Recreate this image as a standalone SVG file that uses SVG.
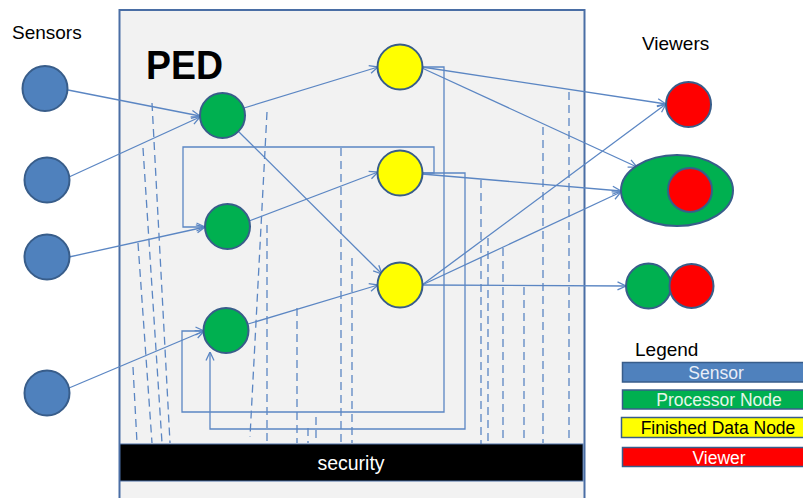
<svg xmlns="http://www.w3.org/2000/svg" width="803" height="498" viewBox="0 0 803 498">
  <style>
    .lbl { font-family: "Liberation Sans", Arial, sans-serif; fill: #000; }
    .ln { fill: none; stroke: #5b86c3; stroke-width: 1.3; }
    .arr { marker-end: url(#open); }
    .dash { fill: none; stroke: #5b86c3; stroke-width: 1.3; stroke-dasharray: 8 5; }
    .sensor { fill: #4f81bd; stroke: #385d8a; stroke-width: 2; }
    .proc { fill: #00b050; stroke: #385d8a; stroke-width: 2; }
    .fin { fill: #ffff00; stroke: #385d8a; stroke-width: 2; }
    .view { fill: #ff0000; stroke: #385d8a; stroke-width: 2; }
    .key { stroke: #385d8a; stroke-width: 1.5; }
    .keytxt { font-family: "Liberation Sans", Arial, sans-serif; font-size: 17.5px; text-anchor: middle; }
  </style>
  <defs>
    <marker id="open" viewBox="0 0 10 10" refX="9.5" refY="5" markerWidth="10" markerHeight="10" markerUnits="userSpaceOnUse" orient="auto">
      <path d="M1,1 L9.5,5 L1,9" fill="none" stroke="#5b86c3" stroke-width="1.3"/>
    </marker>
  </defs>
  <rect width="803" height="498" fill="#ffffff"/>

  <!-- PED enclosure -->
  <g id="ped">
    <rect x="119.5" y="10" width="465" height="495" fill="#f2f2f2" stroke="#4a6ea5" stroke-width="2"/>
    <text class="lbl" x="146" y="79" font-size="41" font-weight="bold" textLength="77" lengthAdjust="spacingAndGlyphs">PED</text>
  </g>

  <!-- dashed links inside PED -->
  <g id="dashed-links">
    <line class="dash" x1="152" y1="103" x2="170" y2="443"/>
    <line class="dash" x1="143" y1="148" x2="162" y2="443"/>
    <line class="dash" x1="138" y1="243" x2="152" y2="443"/>
    <line class="dash" x1="133" y1="367" x2="137" y2="443"/>
    <line class="dash" x1="267" y1="112" x2="250" y2="437"/>
    <line class="dash" x1="267" y1="225" x2="267" y2="443"/>
    <line class="dash" x1="297" y1="308" x2="297" y2="443"/>
    <line class="dash" x1="308" y1="428" x2="308" y2="443"/>
    <line class="dash" x1="316" y1="417" x2="316" y2="443"/>
    <line class="dash" x1="341" y1="148" x2="341" y2="443"/>
    <line class="dash" x1="352" y1="258" x2="352" y2="443"/>
    <line class="dash" x1="481" y1="180" x2="481" y2="448"/>
    <line class="dash" x1="488" y1="238" x2="488" y2="443"/>
    <line class="dash" x1="503" y1="248" x2="503" y2="443"/>
    <line class="dash" x1="524" y1="287" x2="524" y2="443"/>
    <line class="dash" x1="543" y1="127" x2="543" y2="443"/>
    <line class="dash" x1="569" y1="92" x2="569" y2="443"/>
  </g>

  <!-- security layer -->
  <g id="security">
    <rect x="120" y="444" width="463" height="37" fill="#000000" stroke="#4a6ea5" stroke-width="1"/>
    <text x="351" y="470" font-family="Liberation Sans, Arial, sans-serif" font-size="19.5" fill="#ffffff" text-anchor="middle">security</text>
  </g>

  <!-- connectors -->
  <g id="connectors">
    <!-- sensors to processors -->
    <line class="ln arr" x1="68" y1="90" x2="200" y2="116"/>
    <line class="ln arr" x1="69" y1="177" x2="200" y2="117"/>
    <line class="ln arr" x1="69" y1="257" x2="205" y2="227"/>
    <line class="ln arr" x1="69" y1="388" x2="204" y2="331"/>
    <!-- processors to finished data -->
    <line class="ln arr" x1="244" y1="108" x2="378" y2="67"/>
    <line class="ln arr" x1="239" y1="132" x2="382" y2="274"/>
    <line class="ln arr" x1="249" y1="221" x2="378" y2="172"/>
    <line class="ln arr" x1="248" y1="324" x2="378" y2="285"/>
    <!-- feedback routes -->
    <polyline class="ln arr" points="422,173 434,173 434,147 183,147 183,227 205,227"/>
    <polyline class="ln arr" points="422,173 465,173 465,429 210,429 210,352"/>
    <polyline class="ln arr" points="422,67 444,67 444,412 182,412 182,331 204,331"/>
    <!-- finished data to viewers -->
    <line class="ln arr" x1="422" y1="67" x2="666" y2="104"/>
    <line class="ln arr" x1="422" y1="68" x2="637" y2="167"/>
    <line class="ln arr" x1="422" y1="174" x2="621" y2="191"/>
    <line class="ln arr" x1="422" y1="285" x2="666" y2="104"/>
    <line class="ln arr" x1="422" y1="285" x2="621" y2="192"/>
    <line class="ln arr" x1="422" y1="285" x2="626" y2="286"/>
  </g>

  <!-- sensors -->
  <text class="lbl" x="12" y="39" font-size="19">Sensors</text>
  <g id="sensor-1"><circle class="sensor" cx="45" cy="88.5" r="22.5"/></g>
  <g id="sensor-2"><circle class="sensor" cx="47" cy="180" r="22.5"/></g>
  <g id="sensor-3"><circle class="sensor" cx="47" cy="257" r="22.5"/></g>
  <g id="sensor-4"><circle class="sensor" cx="47" cy="393" r="22.5"/></g>

  <!-- processor nodes -->
  <g id="processor-1"><circle class="proc" cx="222.5" cy="115.5" r="22.5"/></g>
  <g id="processor-2"><circle class="proc" cx="227.5" cy="226.5" r="22.5"/></g>
  <g id="processor-3"><circle class="proc" cx="226" cy="330.5" r="22.5"/></g>

  <!-- finished data nodes -->
  <g id="finished-1"><circle class="fin" cx="400" cy="67" r="22.5"/></g>
  <g id="finished-2"><circle class="fin" cx="400" cy="173" r="22.5"/></g>
  <g id="finished-3"><circle class="fin" cx="400" cy="285" r="22.5"/></g>

  <!-- viewers -->
  <text class="lbl" x="642" y="50" font-size="19">Viewers</text>
  <g id="viewer-1"><circle class="view" cx="688.5" cy="104.5" r="22.5"/></g>
  <g id="viewer-2">
    <ellipse class="proc" cx="677" cy="190.5" rx="56" ry="35.5"/>
    <circle class="view" cx="690" cy="190" r="22" stroke="#5b5f9e"/>
  </g>
  <g id="viewer-3">
    <circle class="proc" cx="648.5" cy="286" r="22.5"/>
    <circle class="view" cx="691.5" cy="286" r="22"/>
  </g>

  <!-- legend -->
  <g id="legend">
    <text class="lbl" x="635" y="356" font-size="19">Legend</text>
    <rect class="key" x="622.5" y="362.5" width="190" height="19.5" fill="#4f81bd"/>
    <text class="keytxt" x="716" y="378.5" fill="#e8eef8">Sensor</text>
    <rect class="key" x="622.5" y="390" width="190" height="19" fill="#00b050"/>
    <text class="keytxt" x="719" y="405.5" fill="#e6f6ea">Processor Node</text>
    <rect class="key" x="621.5" y="417.5" width="190" height="20" fill="#ffff00"/>
    <text class="keytxt" x="718" y="433.5" fill="#000000">Finished Data Node</text>
    <rect class="key" x="622.5" y="447.5" width="190" height="19" fill="#ff0000"/>
    <text class="keytxt" x="719" y="463.5" fill="#ffffff">Viewer</text>
  </g>
</svg>
